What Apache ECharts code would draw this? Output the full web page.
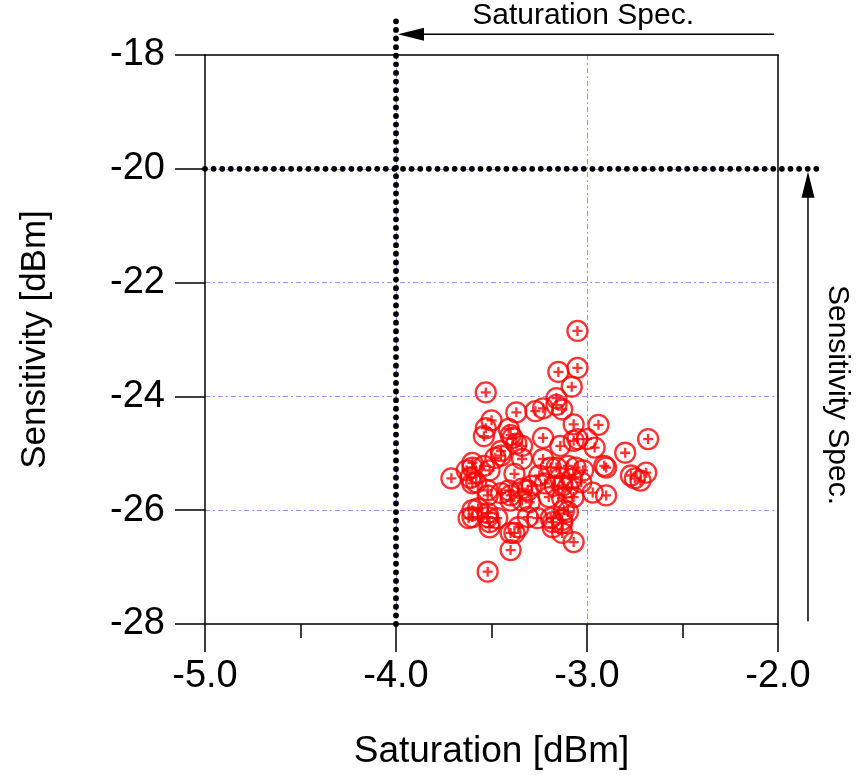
<!DOCTYPE html>
<html>
<head>
<meta charset="utf-8">
<script src="https://cdn.jsdelivr.net/npm/echarts@6/dist/echarts.min.js"></script>
<style>
  html, body { margin: 0; padding: 0; background: #fff; }
  #chart { width: 866px; height: 775px; }
</style>
</head>
<body>
<div id="chart"></div>
<script>
// saturation [dBm] of each device
const saturation = [
  -3.05, -3.05, -3.08, -3.15, -3.53, -3.16, -3.16, -3.13, -3.23, -3.27,
  -3.37, -3.50, -3.53, -3.54, -3.41, -3.40, -3.39, -3.37, -3.34, -3.23,
  -3.14, -3.07, -3.05, -3.07, -2.94, -2.96, -3.00, -3.45, -3.48, -3.45,
  -3.34, -3.60, -3.60, -3.54, -3.51, -3.63, -3.61, -3.71, -3.58, -3.23,
  -3.19, -3.16, -3.10, -3.06, -3.02, -2.91, -2.90, -2.80, -2.68, -2.69,
  -2.77, -2.75, -2.72, -2.97, -2.90, -3.07, -3.10, -3.13, -3.13, -3.07,
  -3.60, -3.52, -3.52, -3.45, -3.41, -3.40, -3.40, -3.34, -3.34, -3.31,
  -3.29, -3.22, -3.17, -3.13, -3.10, -3.03, -3.20, -3.13, -3.30, -3.12,
  -3.60, -3.57, -3.60, -3.62, -3.52, -3.52, -3.51, -3.51, -3.47, -3.31,
  -3.26, -3.19, -3.18, -3.18, -3.13, -3.36, -3.38, -3.40, -3.40, -3.52,
  -3.38, -3.25, -3.14, -3.08
];
// sensitivity [dBm] of each device
const sensitivity = [
  -22.85, -23.50, -23.83, -23.57, -23.93, -24.03, -24.15, -24.23, -24.21, -24.26,
  -24.28, -24.42, -24.56, -24.70, -24.57, -24.68, -24.73, -24.83, -24.87, -24.73,
  -24.87, -24.78, -24.75, -24.49, -24.50, -24.90, -24.75, -24.96, -25.08, -25.04,
  -25.10, -25.17, -25.25, -25.22, -25.30, -25.30, -25.43, -25.44, -25.51, -25.10,
  -25.25, -25.25, -25.22, -25.25, -25.30, -25.22, -25.25, -24.99, -24.75, -25.34,
  -25.39, -25.44, -25.48, -25.69, -25.74, -25.77, -26.03, -26.17, -26.40, -26.56,
  -25.53, -25.65, -25.74, -25.70, -25.65, -25.74, -25.83, -25.62, -25.83, -25.65,
  -25.57, -25.53, -25.57, -25.57, -25.60, -25.51, -25.77, -25.79, -25.86, -26.00,
  -26.00, -25.97, -26.12, -26.14, -26.12, -26.05, -26.21, -26.30, -26.14, -26.12,
  -26.14, -26.14, -26.21, -26.30, -26.23, -26.30, -26.40, -26.40, -26.70, -27.08,
  -25.36, -25.39, -25.43, -25.45
];

const satSpec = -4.0;
const sensSpec = -20;
// how far the spec lines run past the frame
const satLineTop = -17.3;
const sensLineRight = -1.78;
// arrow positions
const satArrowY = -17.635;
const satArrowFrom = -2.02;
const sensArrowX = -1.843;
const sensArrowFrom = -27.95;

const FONT = '"Liberation Sans", Arial, sans-serif';

const points = saturation.map((x, i) => [x, sensitivity[i]]);

const chart = echarts.init(document.getElementById('chart'));

const gridLine = { color: '#9595ff', width: 1, type: [5, 3, 2, 3] };
const axisLine = { show: true, onZero: false, lineStyle: { color: '#000', width: 1.5 } };

chart.setOption({
  animation: false,
  grid: { left: 205, right: 88, top: 55, bottom: 144 },
  xAxis: [
    {
      type: 'value', min: -5, max: -2, interval: 1,
      name: 'Saturation [dBm]', nameLocation: 'middle', nameGap: 109,
      nameTextStyle: { fontFamily: FONT, fontSize: 37, color: '#000' },
      axisLine: axisLine,
      axisTick: { show: true, inside: false, length: 28, lineStyle: { color: '#000', width: 1.5 } },
      minorTick: { show: true, splitNumber: 2, length: 14, lineStyle: { color: '#000', width: 1.5 } },
      axisLabel: {
        margin: 34, fontFamily: FONT, fontSize: 38, color: '#000',
        formatter: (v) => v.toFixed(1)
      },
      splitLine: { show: true, showMinLine: false, showMaxLine: false, lineStyle: gridLine }
    },
    {
      type: 'value', min: -5, max: -2, position: 'top',
      axisLine: axisLine, axisTick: { show: false }, axisLabel: { show: false }, splitLine: { show: false }
    }
  ],
  yAxis: [
    {
      type: 'value', min: -28, max: -18, interval: 2,
      name: 'Sensitivity [dBm]', nameLocation: 'middle', nameGap: 152, nameRotate: 90,
      nameTextStyle: { fontFamily: FONT, fontSize: 35, color: '#000' },
      axisLine: axisLine,
      axisTick: { show: true, inside: false, length: 30, lineStyle: { color: '#000', width: 1.5 } },
      axisLabel: { margin: 40, fontFamily: FONT, fontSize: 38, color: '#000' },
      splitLine: { show: true, showMinLine: false, showMaxLine: false, lineStyle: gridLine }
    },
    {
      type: 'value', min: -28, max: -18, position: 'right',
      axisLine: axisLine, axisTick: { show: false }, axisLabel: { show: false }, splitLine: { show: false }
    }
  ],
  series: [
    {
      type: 'scatter', z: 4,
      symbol: 'path://M1,10A9,9 0 1,1 19,10A9,9 0 1,1 1,10Z M10,5.5L10,14.5 M5.5,10L14.5,10',
      symbolSize: 20,
      itemStyle: { color: 'transparent', borderColor: '#ff0000', borderWidth: 2.3 },
      data: points
    }
  ]
});

// spec lines, arrows and labels, placed through the axes
const p = (x, y) => chart.convertToPixel({ gridIndex: 0 }, [x, y]);
const vBottom = p(satSpec, -28);
const vTop = p(satSpec, satLineTop);
const hLeft = p(-5, sensSpec);
const hRight = p(sensLineRight, sensSpec);
const satStart = p(satArrowFrom, satArrowY);
const satTip = p(satSpec, satArrowY);
satTip[0] += 2;
const sensStart = p(sensArrowX, sensArrowFrom);
const sensTip = p(sensArrowX, sensSpec);
sensTip[1] += 3;

const dots = { stroke: '#000', lineWidth: 5.8, lineCap: 'round', lineDash: [0.01, 8.6] };

chart.setOption({
  graphic: [
    {
      type: 'line', z: 3, shape: { x1: vBottom[0], y1: vBottom[1], x2: vTop[0], y2: vTop[1] },
      style: dots
    },
    {
      type: 'line', z: 3, shape: { x1: hLeft[0], y1: hLeft[1], x2: hRight[0], y2: hRight[1] },
      style: dots
    },
    {
      type: 'line', shape: { x1: satStart[0], y1: satStart[1], x2: satTip[0] + 20, y2: satTip[1] },
      style: { stroke: '#000', lineWidth: 1.5 }
    },
    {
      type: 'polygon',
      shape: { points: [[satTip[0], satTip[1]], [satTip[0] + 26, satTip[1] - 6.5], [satTip[0] + 26, satTip[1] + 6.5]] },
      style: { fill: '#000' }
    },
    {
      type: 'text', x: (satStart[0] + satTip[0]) / 2 - 3, y: satTip[1] - 3,
      style: { text: 'Saturation Spec.', font: '30px ' + FONT, fill: '#000', align: 'center', verticalAlign: 'bottom' }
    },
    {
      type: 'line', shape: { x1: sensStart[0], y1: sensStart[1], x2: sensTip[0], y2: sensTip[1] + 20 },
      style: { stroke: '#000', lineWidth: 1.5 }
    },
    {
      type: 'polygon',
      shape: { points: [[sensTip[0], sensTip[1]], [sensTip[0] - 6.5, sensTip[1] + 26], [sensTip[0] + 6.5, sensTip[1] + 26]] },
      style: { fill: '#000' }
    },
    {
      type: 'text', x: sensTip[0] + 14, y: 395, rotation: -Math.PI / 2,
      style: { text: 'Sensitivity Spec.', font: '30px ' + FONT, fill: '#000', align: 'center', verticalAlign: 'bottom' }
    }
  ]
});
</script>
</body>
</html>
